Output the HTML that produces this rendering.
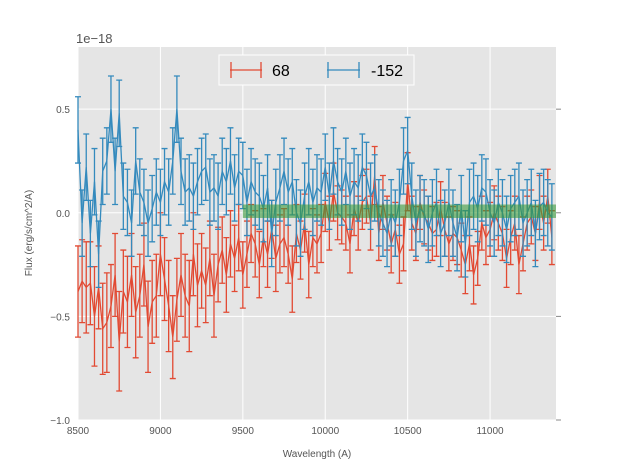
<!DOCTYPE html>
<html><head><meta charset="utf-8"><style>
body{margin:0;background:#fff;font-family:"Liberation Sans",sans-serif}
svg text{font-family:"Liberation Sans",sans-serif}
</style></head><body>
<svg id="chart" width="617" height="467" viewBox="0 0 617 467">
<rect x="78" y="47" width="478" height="373" fill="#E5E5E5"/>
<g id="grid"></g>
<g id="axes"></g>
<rect id="band" fill="#3a9a3a" fill-opacity="0.6"/>
<g id="series"></g>
<text x="76" y="43" font-size="13" fill="#555">1e−18</text>
<text x="317" y="457" font-size="10" fill="#555" text-anchor="middle">Wavelength (A)</text>
<text transform="translate(32,233) rotate(-90)" font-size="10" fill="#555" text-anchor="middle">Flux (erg/s/cm^2/A)</text>
<g>
<rect x="219" y="55" width="195" height="30" fill="#E5E5E5" stroke="#fff" stroke-width="1"/>
<g stroke="#E24A33" stroke-width="1.3">
<line x1="230" y1="70" x2="262" y2="70"/><line x1="231" y1="62" x2="231" y2="78"/><line x1="261" y1="62" x2="261" y2="78"/>
</g>
<text x="272" y="76" font-size="16" fill="#000">68</text>
<g stroke="#348ABD" stroke-width="1.3">
<line x1="327" y1="70" x2="360" y2="70"/><line x1="328" y1="62" x2="328" y2="78"/><line x1="359" y1="62" x2="359" y2="78"/>
</g>
<text x="371" y="76" font-size="16" fill="#000">-152</text>
</g>
</svg>
<script>
const xStart = 8500, xStep = 25;
const redValues = [-0.38,-0.33,-0.36,-0.34,-0.50,-0.36,-0.56,-0.53,-0.45,-0.30,
-0.62,-0.38,-0.43,-0.30,-0.48,-0.40,-0.25,-0.55,-0.43,-0.40,
-0.20,-0.32,-0.45,-0.60,-0.42,-0.30,-0.40,-0.45,-0.20,-0.35,
-0.28,-0.35,-0.22,-0.40,-0.25,-0.18,-0.30,-0.15,-0.22,-0.12,
-0.30,-0.20,-0.10,-0.15,-0.25,-0.12,-0.20,-0.08,-0.22,-0.15,
-0.12,-0.20,-0.32,-0.10,-0.18,-0.05,-0.25,-0.12,-0.15,-0.10,
0.05,-0.05,0.10,0.0,-0.02,-0.05,-0.15,0.02,-0.05,0.05,
0.08,-0.05,0.18,-0.10,0.05,-0.05,-0.15,-0.08,-0.20,-0.15,
0.15,-0.05,-0.10,0.05,-0.02,-0.05,-0.10,-0.08,0.02,-0.08,
-0.15,-0.10,-0.12,-0.18,-0.25,-0.15,-0.30,-0.22,-0.05,-0.12,
-0.08,0.0,-0.05,-0.10,-0.22,-0.12,-0.05,-0.25,-0.15,-0.05,
-0.02,-0.10,0.05,-0.05,0.08,-0.12];
const redErrors = [0.22,0.2,0.22,0.2,0.24,0.2,0.22,0.24,0.2,0.2,
0.24,0.2,0.22,0.2,0.22,0.2,0.2,0.22,0.2,0.2,
0.2,0.2,0.22,0.2,0.2,0.2,0.2,0.22,0.2,0.2,
0.18,0.18,0.18,0.2,0.18,0.16,0.18,0.16,0.16,0.16,
0.16,0.16,0.14,0.16,0.16,0.14,0.16,0.14,0.16,0.14,
0.14,0.14,0.16,0.14,0.14,0.14,0.16,0.14,0.14,0.14,
0.14,0.13,0.14,0.13,0.13,0.13,0.14,0.13,0.13,0.13,
0.13,0.13,0.14,0.13,0.13,0.13,0.14,0.13,0.14,0.13,
0.14,0.13,0.13,0.13,0.13,0.13,0.13,0.13,0.13,0.13,
0.13,0.13,0.13,0.13,0.14,0.13,0.14,0.13,0.13,0.13,
0.13,0.13,0.13,0.13,0.14,0.13,0.13,0.14,0.13,0.13,
0.13,0.13,0.13,0.13,0.13,0.13];
const blueValues = [0.40,-0.05,0.22,-0.10,0.15,-0.20,0.20,0.25,0.50,0.20,
0.48,0.08,0.05,-0.05,0.25,0.10,0.05,-0.05,0.02,0.10,
0.05,0.15,0.10,0.25,0.50,0.20,0.10,0.12,0.08,0.15,
0.20,0.22,0.10,0.12,0.08,0.20,0.15,0.25,0.12,0.20,
0.18,0.05,0.15,0.10,0.08,0.02,0.12,-0.10,0.05,0.12,
0.20,0.10,0.15,0.00,-0.05,0.08,0.15,0.05,0.12,0.10,
0.22,0.08,0.25,0.15,0.10,0.20,0.08,0.15,0.12,0.22,
0.18,0.08,0.12,0.0,-0.05,-0.10,0.00,-0.05,0.05,0.25,
0.30,0.08,-0.05,0.02,0.0,-0.08,0.00,0.05,-0.10,-0.05,
0.05,-0.05,-0.12,0.02,-0.15,0.05,0.08,0.02,0.12,0.10,
0.00,-0.05,0.05,0.0,-0.08,0.02,0.05,0.08,-0.05,0.0,
0.05,-0.10,0.03,0.05,0.0,-0.02];
const blueErrors = blueValues.map(()=>0.16);
const xTicks = [8500,9000,9500,10000,10500,11000];
const yTicks = [-1.0,-0.5,0.0,0.5];
const yTickLabels = ["−1.0","−0.5","0.0","0.5"];
const bandRange = [9500, 11400, -0.025, 0.04];

const X0=78,X1=556,Y0=420,Y1=47, xmin=8500,xmax=11400,ymin=-1.0,ymax=0.8;
const sx=v=>X0+(v-xmin)/(xmax-xmin)*(X1-X0);
const sy=v=>Y0-(v-ymin)/(ymax-ymin)*(Y0-Y1);
const NS="http://www.w3.org/2000/svg";
function mk(tag,attrs,parent){const e=document.createElementNS(NS,tag);for(const k in attrs)e.setAttribute(k,attrs[k]);parent.appendChild(e);return e;}
const grid=document.getElementById('grid'),axes=document.getElementById('axes');
xTicks.forEach(t=>{
  const l=mk('line',{x1:sx(t),x2:sx(t),y1:Y1,y2:Y0,stroke:'#fff','stroke-width':1},grid);
  
  
  const tx=mk('text',{x:sx(t),y:Y0+14,'font-size':10,fill:'#555','text-anchor':'middle'},axes);
  tx.textContent=t;
  
  
});
yTicks.forEach((t,i)=>{
  const l=mk('line',{x1:X0,x2:X1,y1:sy(t),y2:sy(t),stroke:'#fff','stroke-width':1},grid);
  
  
  const m=mk('line',{x1:X1,x2:X1+5,y1:sy(t),y2:sy(t),stroke:'#888','stroke-width':1},axes);
  
  
  const tx=mk('text',{x:X0-8,y:sy(t)+4,'font-size':10,fill:'#555','text-anchor':'end'},axes);
  tx.textContent=yTickLabels[i];
  
  
});
const band=document.getElementById('band');
band.setAttribute('x',sx(bandRange[0]));band.setAttribute('width',sx(bandRange[1])-sx(bandRange[0]));
band.setAttribute('y',sy(bandRange[3]));band.setAttribute('height',sy(bandRange[2])-sy(bandRange[3]));
const series=document.getElementById('series');
function draw(vals,errs,color,name){
  const g=mk('g',{stroke:color,'stroke-width':1.3,fill:'none'},series);
  
  
  let d='';
  vals.forEach((v,i)=>{
    const x=sx(xStart+i*xStep);
    d+=(i?'L':'M')+x.toFixed(1)+' '+sy(v).toFixed(1);
    const top=Math.max(Y1,sy(v+errs[i])),bot=Math.min(Y0,sy(v-errs[i]));
    const e=mk('path',{d:`M${x} ${top}V${bot}M${x-3} ${sy(v+errs[i])}h6M${x-3} ${sy(v-errs[i])}h6`},g);
    
    
  });
  const p=mk('path',{d:d},g);
  
  
}
draw(redValues,redErrors,'#E24A33','series-68');
draw(blueValues,blueErrors,'#348ABD','series-152');
series.parentNode.insertBefore(band,series.nextSibling);
</script>
</body></html>
